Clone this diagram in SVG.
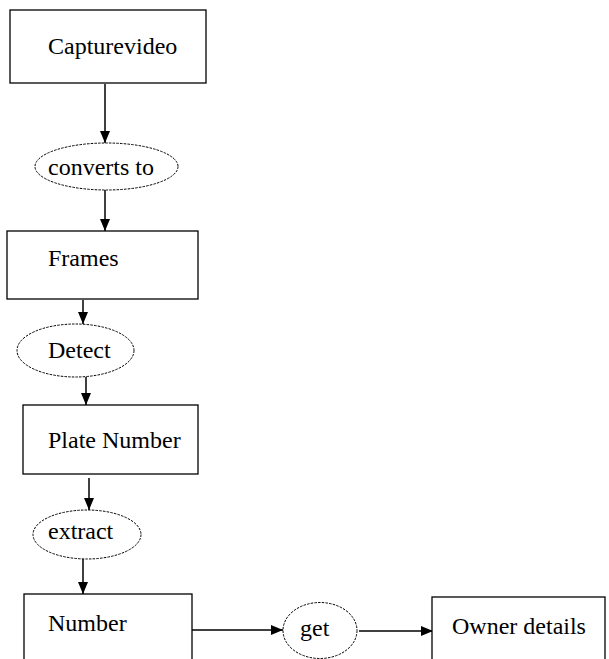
<svg xmlns="http://www.w3.org/2000/svg" width="609" height="659" viewBox="0 0 609 659">
<defs>
<style>
.box{fill:#fff;stroke:#000;stroke-width:1.3}
.ell{fill:#fff;stroke:#000;stroke-width:1;stroke-dasharray:2.5 1.2}
.t{font-family:"Liberation Serif",serif;font-size:24px;fill:#000}
.e{stroke:#000;stroke-width:1.5;fill:none}
</style>
<marker id="ah" markerWidth="12" markerHeight="12" refX="12" refY="6" orient="auto" markerUnits="userSpaceOnUse" viewBox="0 0 12 12">
<path d="M0,1 L12,6 L0,11 Z" fill="#000"/>
</marker>
</defs>
<rect width="609" height="659" fill="#fff"/>
<g id="edges">
<line class="e" x1="105" y1="84" x2="105" y2="143" marker-end="url(#ah)"/>
<line class="e" x1="105" y1="190" x2="105" y2="231" marker-end="url(#ah)"/>
<line class="e" x1="83" y1="300" x2="83" y2="324" marker-end="url(#ah)"/>
<line class="e" x1="86" y1="377" x2="86" y2="405" marker-end="url(#ah)"/>
<line class="e" x1="89" y1="478" x2="89" y2="510" marker-end="url(#ah)"/>
<line class="e" x1="83" y1="559" x2="83" y2="594" marker-end="url(#ah)"/>
<line class="e" x1="192" y1="630" x2="283" y2="630" marker-end="url(#ah)"/>
<line class="e" x1="359" y1="631" x2="433" y2="631" marker-end="url(#ah)"/>
</g>
<g id="capturevideo">
<rect class="box" x="10" y="10" width="196" height="73"/>
<text class="t" x="48" y="54">Capturevideo</text>
</g>
<g id="converts-to">
<ellipse class="ell" cx="106.5" cy="166.5" rx="71.5" ry="23.5"/>
<text class="t" x="48" y="175">converts to</text>
</g>
<g id="frames">
<rect class="box" x="7" y="231" width="191" height="68"/>
<text class="t" x="48" y="266">Frames</text>
</g>
<g id="detect">
<ellipse class="ell" cx="75.5" cy="350.5" rx="58.5" ry="26.5"/>
<text class="t" x="48" y="358">Detect</text>
</g>
<g id="plate-number">
<rect class="box" x="23" y="405" width="175" height="69"/>
<text class="t" x="48" y="448">Plate Number</text>
</g>
<g id="extract">
<ellipse class="ell" cx="87" cy="534.5" rx="54" ry="24.5"/>
<text class="t" x="48" y="539">extract</text>
</g>
<g id="number">
<rect class="box" x="24" y="594" width="168" height="80"/>
<text class="t" x="48" y="631">Number</text>
</g>
<g id="get">
<ellipse class="ell" cx="320" cy="630.5" rx="37" ry="28"/>
<text class="t" x="300" y="636">get</text>
</g>
<g id="owner-details">
<rect class="box" x="432" y="597" width="173" height="80"/>
<text class="t" x="452" y="634">Owner details</text>
</g>
</svg>
